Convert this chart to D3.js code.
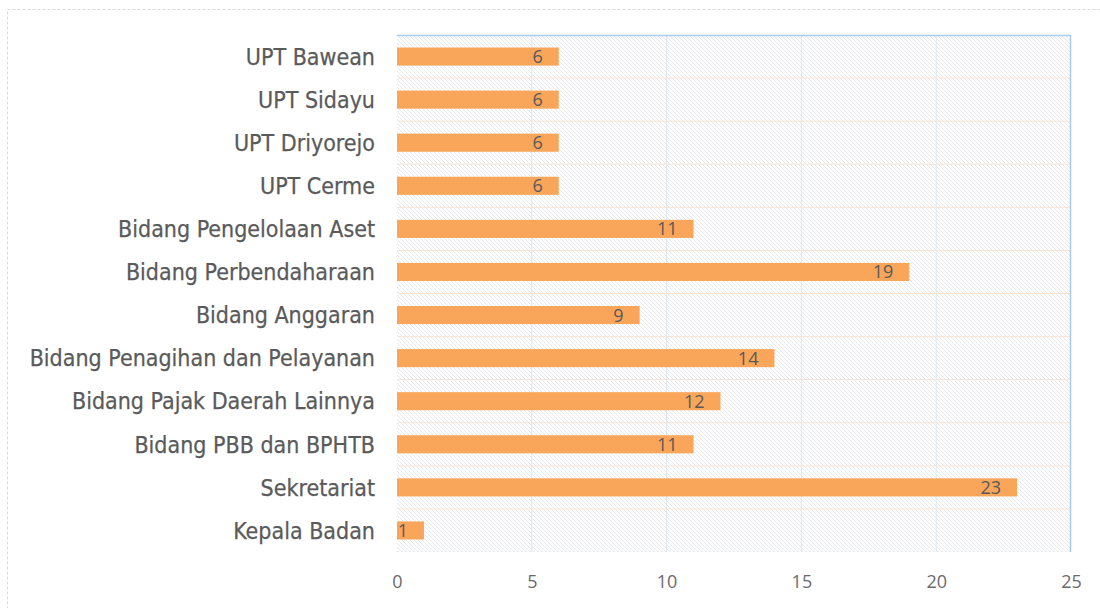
<!DOCTYPE html>
<html>
<head>
<meta charset="utf-8">
<script src="https://cdn.jsdelivr.net/npm/d3@7"></script>
<style>
  body { margin: 0; background: #fff; }
  svg { display: block; }
</style>
</head>
<body>
<div id="chart"></div>
<script>
// data, top to bottom
var categories = ["UPT Bawean", "UPT Sidayu", "UPT Driyorejo", "UPT Cerme",
  "Bidang Pengelolaan Aset", "Bidang Perbendaharaan", "Bidang Anggaran",
  "Bidang Penagihan dan Pelayanan", "Bidang Pajak Daerah Lainnya",
  "Bidang PBB dan BPHTB", "Sekretariat", "Kepala Badan"];
var values = [6, 6, 6, 6, 11, 19, 9, 14, 12, 11, 23, 1];
var xTicks = [0, 5, 10, 15, 20, 25];

var W = 1100, H = 608;
var margin = {top: 35, right: 29, bottom: 56, left: 397};
var width = W - margin.left - margin.right,
    height = H - margin.top - margin.bottom;

var svg = d3.select("#chart").append("svg")
  .attr("width", W)
  .attr("height", H);

// hatch pattern for the plot background
var defs = svg.append("defs");
defs.append("pattern")
  .attr("id", "hatch")
  .attr("patternUnits", "userSpaceOnUse")
  .attr("width", 4).attr("height", 4)
  .append("path")
    .attr("d", "M-1,-1 L5,5 M-1,3 L1,5 M3,-1 L5,1")
    .attr("stroke", "#dfe2e6")
    .attr("stroke-width", 0.8);

// outer dashed frame
svg.append("rect")
  .attr("x", 7.5).attr("y", 9.5)
  .attr("width", 1100).attr("height", 620)
  .attr("fill", "none")
  .attr("stroke", "#d9d9d9")
  .attr("stroke-dasharray", "3,2");

var g = svg.append("g")
  .attr("transform", "translate(" + margin.left + "," + margin.top + ")");

var x = d3.scaleLinear().domain([0, 25]).range([0, width]);
var y = d3.scaleBand().domain(categories).range([0, height]).paddingInner(0.58).paddingOuter(0.29);
var yRow = d3.scaleBand().domain(categories).range([0, height]);

g.append("rect")
  .attr("width", width).attr("height", height)
  .attr("fill", "url(#hatch)");

// vertical gridlines
g.selectAll(".vgrid")
  .data(xTicks.slice(1, -1))
  .enter().append("line")
    .attr("x1", d => x(d)).attr("x2", d => x(d))
    .attr("y1", 0).attr("y2", height)
    .attr("stroke", "#dde6f0")
    .attr("stroke-width", 1);

// horizontal row separators
g.selectAll(".hgrid")
  .data(categories.slice(1))
  .enter().append("line")
    .attr("x1", 0).attr("x2", width)
    .attr("y1", d => yRow(d)).attr("y2", d => yRow(d))
    .attr("stroke", "#fbe3d2")
    .attr("stroke-width", 1);

// faint dotted bottom edge
g.append("line")
  .attr("x1", 0).attr("x2", width)
  .attr("y1", height - 0.5).attr("y2", height - 0.5)
  .attr("stroke", "#e3e6ea")
  .attr("stroke-dasharray", "2,2");

// top and right border in light blue
g.append("path")
  .attr("d", "M0,0.5 H" + (width - 0.5) + " V" + height)
  .attr("fill", "none")
  .attr("stroke", "#a9cbec")
  .attr("stroke-width", 1.5);

// bars
g.selectAll(".bar")
  .data(values)
  .enter().append("rect")
    .attr("x", x(0))
    .attr("y", (d, i) => y(categories[i]))
    .attr("width", d => x(d) - x(0))
    .attr("height", y.bandwidth())
    .attr("fill", "#f9a65a");

// value labels, right-aligned inside bar end
g.selectAll(".val")
  .data(values)
  .enter().append("text")
    .attr("x", d => x(d) - 16)
    .attr("y", (d, i) => y(categories[i]) + y.bandwidth() / 2)
    .attr("dy", "0.36em")
    .attr("text-anchor", "end")
    .attr("font-family", "'Open Sans', sans-serif")
    .attr("font-size", 18)
    .attr("fill", "#595959")
    .text(d => d);

// category labels
g.selectAll(".cat")
  .data(categories)
  .enter().append("text")
    .attr("x", -22)
    .attr("y", d => yRow(d) + yRow.bandwidth() / 2)
    .attr("dy", "0.36em")
    .attr("text-anchor", "end")
    .attr("font-family", "'DejaVu Sans Condensed', sans-serif")
    .attr("font-size", 23)
    .attr("fill", "#5a5a5a")
    .attr("stroke", "#5a5a5a")
    .attr("stroke-width", 0.25)
    .text(d => d);

// x axis tick labels
var xAxis = d3.axisBottom(x).tickValues(xTicks).tickSize(0).tickPadding(23);
var ax = g.append("g")
  .attr("transform", "translate(0," + height + ")")
  .call(xAxis);
ax.select(".domain").remove();
ax.selectAll("text")
  .attr("font-family", "'Open Sans', sans-serif")
  .attr("font-size", 18)
  .attr("fill", "#6b6b6b");
</script>
</body>
</html>
